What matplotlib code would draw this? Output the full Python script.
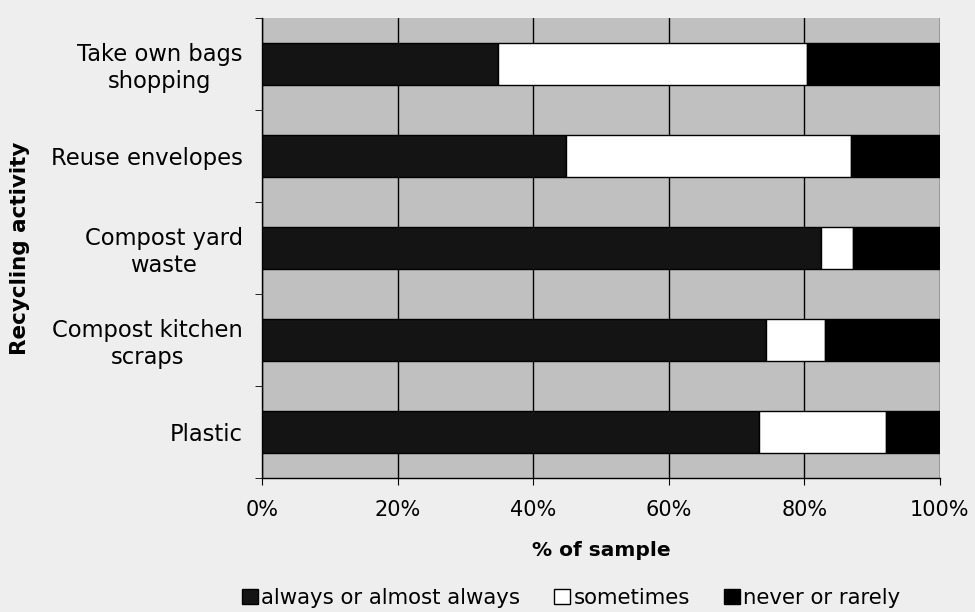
import matplotlib
matplotlib.use("Agg")
import matplotlib.pyplot as plt
import numpy as np
from matplotlib.patches import Patch

categories = ["Take own bags\nshopping", "Reuse envelopes", "Compost yard\nwaste",
              "Compost kitchen\nscraps", "Plastic"]
always = [34.8, 44.8, 82.4, 74.3, 73.3]
sometimes = [45.6, 42.1, 4.8, 8.7, 18.7]
never = [19.6, 13.1, 12.8, 17.0, 8.0]
series_names = ["always or almost always", "sometimes", "never or rarely"]
xticks = [0, 20, 40, 60, 80, 100]
xticklabels = ["0%", "20%", "40%", "60%", "80%", "100%"]

plt.rcParams['font.family'] = ['DejaVu Sans']
fig = plt.figure(figsize=(9.75, 6.12), dpi=100, facecolor="#eeeeee")
ax = fig.add_axes([0.2687, 0.219, 0.6953, 0.7516])
ax.set_facecolor("#c0c0c0")

y = np.arange(len(categories))
h = 0.46
colors = ["#141414", "#ffffff", "#000000"]
left = np.zeros(len(categories))
for vals, c in zip([always, sometimes, never], colors):
    ax.barh(y, vals, left=left, height=h, color=c, edgecolor="black", linewidth=1.0, zorder=3)
    left += np.array(vals)

ax.set_ylim(len(categories) - 0.5, -0.5)
ax.set_xlim(0, 100)
ax.set_yticks(y)
ax.set_yticklabels(categories, fontsize=16.3, multialignment="center")
ax.set_yticks(np.arange(-0.5, len(categories), 1), minor=True)
ax.tick_params(axis="y", which="major", length=0, pad=14)
ax.tick_params(axis="y", which="minor", length=5, direction="out", color="black")
ax.set_xticks(xticks)
ax.set_xticklabels(xticklabels, fontsize=15)
ax.tick_params(axis="x", length=5, direction="out", pad=11)
ax.xaxis.grid(True, color="black", linewidth=1.0, zorder=1)
ax.set_axisbelow(True)
for side in ["top", "right"]:
    ax.spines[side].set_visible(False)
ax.spines["left"].set_linewidth(1.0)
ax.spines["bottom"].set_linewidth(1.0)

ax.set_xlabel("% of sample", fontsize=14.5, fontweight="bold")
ax.xaxis.set_label_coords(0.5, -0.137)
ax.set_ylabel("Recycling activity", fontsize=15.5, fontweight="bold")
ax.yaxis.set_label_coords(-0.342, 0.5)

handles = [Patch(facecolor=c, edgecolor="black", linewidth=1.0) for c in colors]
fig.legend(handles, series_names, loc="center", bbox_to_anchor=(0.586, 0.023),
           ncol=3, frameon=False, fontsize=15.3, handlelength=0.75, handleheight=0.75,
           handletextpad=0.15, columnspacing=1.6, borderpad=0)

fig.savefig("out.png", dpi=100, facecolor=fig.get_facecolor())
